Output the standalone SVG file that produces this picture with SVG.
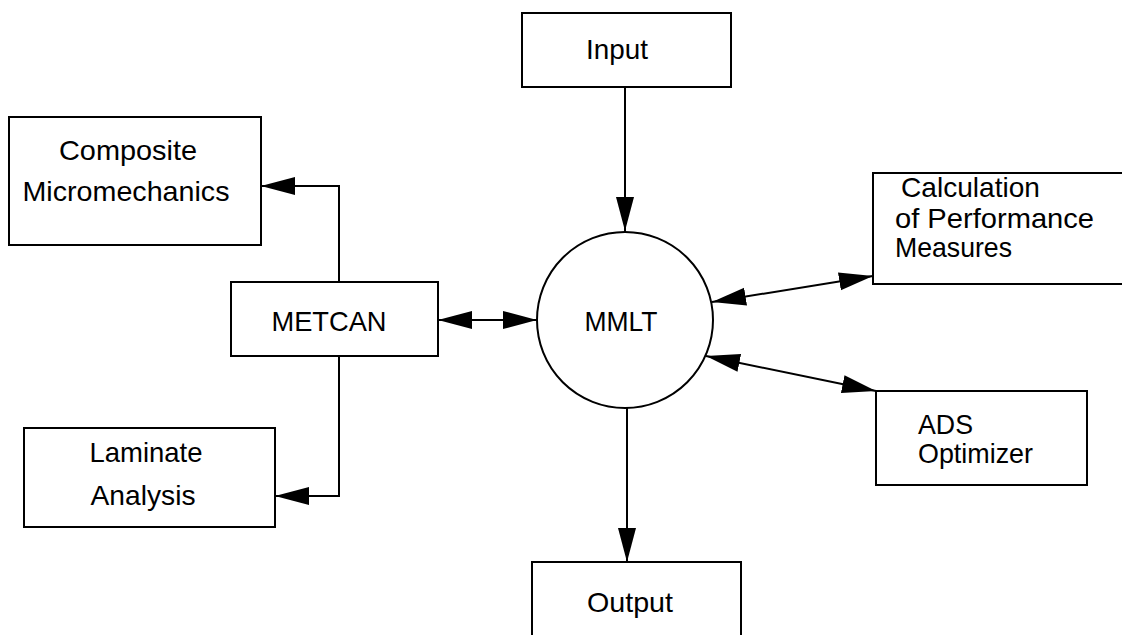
<svg xmlns="http://www.w3.org/2000/svg" width="1122" height="635" viewBox="0 0 1122 635">
<style>
.box{fill:#fff;stroke:#000;stroke-width:2}
.t{font-family:"Liberation Sans",Arial,sans-serif;font-size:28px;fill:#000}
.m{text-anchor:middle}
.c{fill:none;stroke:#000;stroke-width:2}
</style>
<defs>
<marker id="ah" markerUnits="userSpaceOnUse" markerWidth="34" markerHeight="20" viewBox="0 0 34 20" refX="34" refY="10" orient="auto-start-reverse">
<path d="M0,1 L34,10 L0,19 z" fill="#000"/>
</marker>
</defs>
<rect width="1122" height="635" fill="#fff"/>
<g id="connectors">
<path class="c" d="M339,282 V186 H261" marker-end="url(#ah)"/>
<path class="c" d="M339,356 V496 H275" marker-end="url(#ah)"/>
<path class="c" d="M438,320 H537" marker-start="url(#ah)" marker-end="url(#ah)"/>
<path class="c" d="M712,302 L873,276" marker-start="url(#ah)" marker-end="url(#ah)"/>
<path class="c" d="M706,356 L876,391" marker-start="url(#ah)" marker-end="url(#ah)"/>
<path class="c" d="M625,87 V231" marker-end="url(#ah)"/>
<path class="c" d="M627,408 V562" marker-end="url(#ah)"/>
</g>
<g id="input">
<rect class="box" x="522" y="13" width="209" height="74"/>
<text class="t m" x="617" y="59" textLength="62" lengthAdjust="spacingAndGlyphs">Input</text>
</g>
<g id="composite">
<rect class="box" x="9" y="117" width="252" height="128"/>
<text class="t m" x="128" y="160" textLength="138" lengthAdjust="spacingAndGlyphs">Composite</text>
<text class="t m" x="126" y="201" textLength="207" lengthAdjust="spacingAndGlyphs">Micromechanics</text>
</g>
<g id="metcan">
<rect class="box" x="231" y="282" width="207" height="74"/>
<text class="t m" x="329" y="331" textLength="115" lengthAdjust="spacingAndGlyphs">METCAN</text>
</g>
<g id="laminate">
<rect class="box" x="24" y="428" width="251" height="99"/>
<text class="t m" x="146" y="462" textLength="113" lengthAdjust="spacingAndGlyphs">Laminate</text>
<text class="t m" x="143" y="505" textLength="105" lengthAdjust="spacingAndGlyphs">Analysis</text>
</g>
<g id="mmlt">
<circle cx="625" cy="320" r="88" fill="#fff" stroke="#000" stroke-width="2"/>
<text class="t m" x="621" y="331" textLength="73" lengthAdjust="spacingAndGlyphs">MMLT</text>
</g>
<g id="calculation">
<rect class="box" x="873" y="173" width="255" height="111"/>
<text class="t" x="901" y="197" textLength="139" lengthAdjust="spacingAndGlyphs">Calculation</text>
<text class="t" x="895" y="228" textLength="199" lengthAdjust="spacingAndGlyphs">of Performance</text>
<text class="t" x="895" y="257" textLength="117" lengthAdjust="spacingAndGlyphs">Measures</text>
</g>
<g id="ads">
<rect class="box" x="876" y="391" width="211" height="94"/>
<text class="t" x="918" y="434" textLength="55" lengthAdjust="spacingAndGlyphs">ADS</text>
<text class="t" x="918" y="463" textLength="115" lengthAdjust="spacingAndGlyphs">Optimizer</text>
</g>
<g id="output">
<rect class="box" x="532" y="562" width="209" height="80"/>
<text class="t m" x="630" y="612" textLength="86" lengthAdjust="spacingAndGlyphs">Output</text>
</g>
</svg>
